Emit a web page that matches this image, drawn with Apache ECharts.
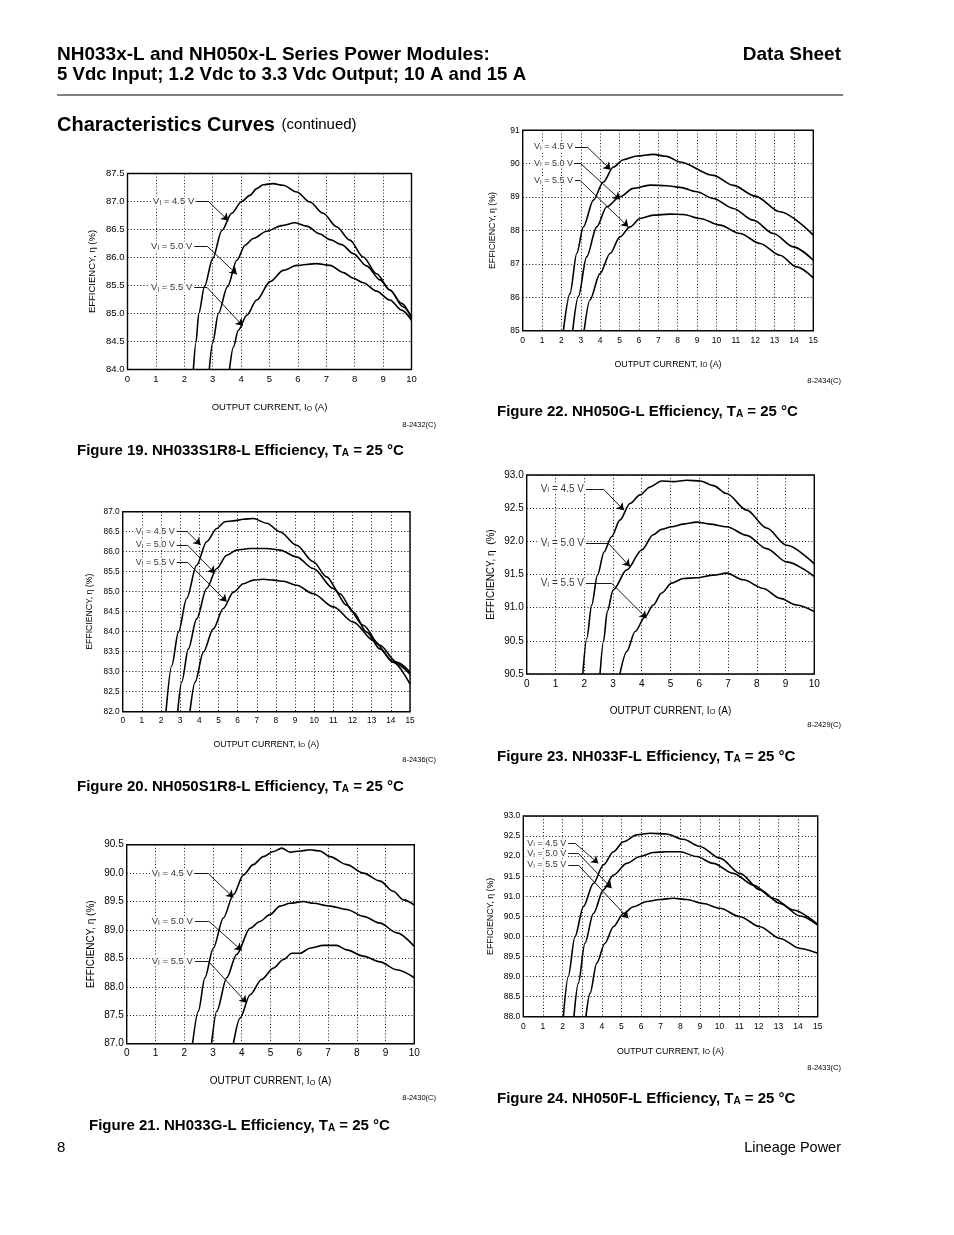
<!DOCTYPE html>
<html><head><meta charset="utf-8">
<script src="https://cdn.jsdelivr.net/npm/echarts@6/dist/echarts.min.js"></script>
<style>html,body{margin:0;padding:0;background:#fff}#c{width:954px;height:1235px}</style>
</head><body><div id="c"></div>
<script>
const FONT = "'Liberation Sans', Arial, Helvetica, sans-serif";

// ---------- Figure 19: NH033S1R8-L ----------
const fig19_v45 = [[2.32,84.0],[2.41,84.48],[2.51,85.0],[2.71,85.48],[3.0,85.98],[3.32,86.48],[3.67,86.79],[4.02,87.0],[4.31,87.11],[4.55,87.23],[4.78,87.30],[5.13,87.32],[5.48,87.29],[5.96,87.17],[6.42,86.99],[6.89,86.79],[7.36,86.55],[7.83,86.31],[8.30,86.01],[8.77,85.71],[9.24,85.42],[9.70,85.12],[10.0,84.94]];
const fig19_v50 = [[2.88,84.0],[3.0,84.48],[3.20,85.0],[3.52,85.48],[3.85,85.95],[4.14,86.22],[4.43,86.34],[4.90,86.47],[5.43,86.57],[5.90,86.62],[6.31,86.56],[6.78,86.42],[7.13,86.32],[7.54,86.23],[7.95,86.07],[8.42,85.85],[8.89,85.60],[9.24,85.42],[9.65,85.18],[10.0,84.92]];
const fig19_v55 = [[3.59,84.0],[3.73,84.4],[3.90,84.7],[4.20,84.97],[4.55,85.24],[5.02,85.57],[5.49,85.77],[5.96,85.86],[6.66,85.89],[7.13,85.86],[7.60,85.73],[7.95,85.63],[8.30,85.55],[8.77,85.40],[9.24,85.24],[9.65,85.06],[10.0,84.88]];
const fig19_yTicks = ['84.0','84.5','85.0','85.5','86.0','86.5','87.0','87.5'];
const fig19_notes = [
  {label:'4.5', start:[2.42,87.0], corner:[2.85,87.0], tip:[3.55,86.66]},
  {label:'5.0', start:[2.35,86.2], corner:[2.81,86.2], tip:[3.85,85.70]},
  {label:'5.5', start:[2.35,85.46], corner:[2.81,85.46], tip:[4.06,84.78]}
];

// ---------- Figure 22: NH050G-L ----------
const fig22_v45 = [[2.10,85.0],[2.44,86.11],[2.79,87.31],[3.13,88.11],[3.65,88.91],[4.16,89.45],[4.68,89.90],[5.20,90.12],[5.89,90.23],[6.74,90.28],[7.43,90.22],[8.12,90.05],[9.84,89.65],[10.87,89.35],[12.0,89.03],[13.28,88.56],[15.0,87.86]];
const fig22_v50 = [[2.58,85.0],[2.87,86.02],[3.30,87.21],[3.82,88.11],[4.34,88.71],[5.02,89.01],[5.71,89.26],[6.57,89.36],[7.43,89.34],[8.12,89.29],[8.98,89.16],[9.84,88.96],[10.87,88.66],[11.90,88.31],[12.94,87.91],[13.97,87.51],[15.0,87.11]];
const fig22_v55 = [[3.17,85.0],[3.47,85.92],[3.99,86.71],[4.51,87.31],[5.02,87.81],[5.54,88.11],[6.06,88.36],[6.74,88.46],[7.60,88.49],[8.29,88.48],[9.15,88.36],[10.18,88.16],[11.22,87.91],[12.25,87.61],[13.28,87.26],[14.14,86.91],[15.0,86.58]];
const fig22_yTicks = ['85','86','87','88','89','90','91'];
const fig22_notes = [
  {label:'4.5', start:[2.70,90.5], corner:[3.33,90.5], tip:[4.54,89.82]},
  {label:'5.0', start:[2.70,90.02], corner:[2.96,90.02], tip:[5.03,88.93]},
  {label:'5.5', start:[2.70,89.5], corner:[2.96,89.5], tip:[5.45,88.11]}
];

// ---------- Figure 20: NH050S1R8-L ----------
const fig20_v45 = [[2.26,82.0],[2.56,83.15],[2.91,83.99],[3.34,84.83],[3.86,85.66],[4.38,86.25],[4.91,86.58],[5.34,86.75],[5.78,86.77],[6.30,86.81],[6.82,86.83],[7.52,86.71],[8.21,86.50],[9.08,86.16],[9.95,85.75],[10.65,85.37],[11.34,84.95],[12.04,84.49],[12.74,83.99],[13.43,83.57],[14.13,83.24],[15.0,82.94]];
const fig20_v50 = [[2.87,82.0],[3.08,82.74],[3.43,83.57],[3.86,84.32],[4.38,85.08],[4.91,85.58],[5.43,85.91],[5.95,86.04],[6.65,86.08],[7.52,86.08],[8.21,86.04],[9.08,85.87],[9.95,85.58],[11.0,85.08],[11.69,84.66],[12.56,84.16],[13.43,83.66],[14.30,83.24],[15.0,82.99]];
const fig20_v55 = [[3.51,82.0],[3.78,82.74],[4.21,83.49],[4.73,84.07],[5.25,84.58],[5.78,84.99],[6.30,85.20],[6.82,85.29],[7.34,85.31],[7.86,85.29],[8.39,85.26],[9.08,85.16],[9.95,84.95],[11.0,84.62],[12.04,84.24],[13.09,83.78],[14.13,83.24],[15.0,82.69]];
const fig20_yTicks = ['82.0','82.5','83.0','83.5','84.0','84.5','85.0','85.5','86.0','86.5','87.0'];
const fig20_notes = [
  {label:'4.5', start:[2.82,86.5], corner:[3.37,86.5], tip:[4.07,86.17]},
  {label:'5.0', start:[2.82,86.17], corner:[3.37,86.17], tip:[4.82,85.46]},
  {label:'5.5', start:[2.82,85.74], corner:[3.37,85.74], tip:[5.43,84.75]}
];

// ---------- Figure 23: NH033F-L ----------
const fig23_v45 = [[1.95,90.0],[2.09,90.54],[2.26,91.04],[2.46,91.49],[2.69,91.84],[2.95,92.07],[3.24,92.32],[3.59,92.57],[3.94,92.70],[4.29,92.82],[4.69,92.91],[5.10,92.90],[5.56,92.92],[6.03,92.91],[6.49,92.84],[6.95,92.72],[7.65,92.47],[8.34,92.20],[9.04,91.94],[10.0,91.66]];
const fig23_v50 = [[2.55,90.0],[2.67,90.49],[2.80,90.94],[3.01,91.27],[3.48,91.57],[4.0,91.87],[4.40,92.10],[4.69,92.18],[5.04,92.22],[5.45,92.26],[5.91,92.29],[6.37,92.26],[6.95,92.22],[7.65,92.09],[8.34,91.89],[9.04,91.69],[10.0,91.47]];
const fig23_v55 = [[3.24,90.0],[3.48,90.34],[3.77,90.64],[4.11,90.86],[4.40,91.04],[4.69,91.22],[5.04,91.37],[5.45,91.44],[5.91,91.45],[6.49,91.49],[6.95,91.52],[7.53,91.42],[8.23,91.29],[8.81,91.14],[9.39,91.04],[10.0,90.94]];
const fig23_yTicks = ['90.5','90.5','91.0','91.5','92.0','92.5','93.0'];
const fig23_notes = [
  {label:'4.5', start:[2.06,92.79], corner:[2.66,92.79], tip:[3.38,92.47]},
  {label:'5.0', start:[2.06,91.97], corner:[2.84,91.97], tip:[3.59,91.62]},
  {label:'5.5', start:[2.06,91.37], corner:[2.95,91.37], tip:[4.17,90.84]}
];

// ---------- Figure 21: NH033G-L ----------
const fig21_v45 = [[2.29,87.0],[2.49,87.57],[2.72,88.16],[3.01,88.68],[3.36,89.21],[3.71,89.62],[4.06,89.97],[4.40,90.15],[4.75,90.29],[5.10,90.38],[5.39,90.44],[5.68,90.37],[6.03,90.39],[6.37,90.41],[6.72,90.39],[7.07,90.29],[7.65,90.15],[8.23,90.0],[8.81,89.86],[9.27,89.68],[9.62,89.53],[10.0,89.44]];
const fig21_v50 = [[2.95,87.0],[3.13,87.57],[3.48,88.16],[3.82,88.57],[4.29,89.03],[4.63,89.15],[4.98,89.27],[5.33,89.42],[5.68,89.47],[6.14,89.50],[6.49,89.47],[7.07,89.42],[7.65,89.36],[8.23,89.24],[8.81,89.12],[9.39,88.95],[10.0,88.71]];
const fig21_v55 = [[3.71,87.0],[3.94,87.45],[4.29,87.86],[4.69,88.13],[5.10,88.33],[5.45,88.48],[5.74,88.59],[6.03,88.59],[6.37,88.68],[6.84,88.73],[7.30,88.73],[7.65,88.65],[8.23,88.54],[8.81,88.44],[9.39,88.30],[10.0,88.16]];
const fig21_yTicks = ['87.0','87.5','88.0','88.5','89.0','89.5','90.0','90.5'];
const fig21_notes = [
  {label:'4.5', start:[2.37,89.99], corner:[2.84,89.99], tip:[3.71,89.57]},
  {label:'5.0', start:[2.37,89.16], corner:[2.84,89.16], tip:[4.0,88.64]},
  {label:'5.5', start:[2.37,88.45], corner:[2.84,88.45], tip:[4.17,87.72]}
];

// ---------- Figure 24: NH050F-L ----------
const fig24_v45 = [[2.04,88.0],[2.29,89.0],[2.63,89.99],[3.06,90.74],[3.57,91.32],[4.08,91.78],[4.59,92.11],[5.10,92.36],[5.78,92.53],[6.46,92.57],[7.30,92.55],[8.15,92.42],[9.0,92.24],[10.02,91.95],[11.04,91.57],[12.06,91.16],[13.08,90.82],[14.10,90.51],[15.0,90.28]];
const fig24_v50 = [[2.58,88.0],[2.80,88.83],[3.14,89.83],[3.57,90.57],[4.08,91.16],[4.59,91.53],[5.27,91.82],[5.95,91.99],[6.62,92.09],[7.30,92.11],[7.98,92.11],[8.83,91.99],[9.68,91.82],[10.70,91.57],[11.72,91.28],[12.74,90.95],[13.76,90.66],[15.0,90.30]];
const fig24_v55 = [[3.19,88.0],[3.40,88.58],[3.74,89.33],[4.16,89.83],[4.59,90.24],[5.10,90.57],[5.61,90.74],[6.29,90.87],[6.96,90.92],[7.64,90.95],[8.32,90.92],[9.17,90.82],[10.02,90.70],[11.04,90.49],[12.06,90.24],[13.08,89.95],[14.10,89.70],[15.0,89.58]];
const fig24_yTicks = ['88.0','88.5','89.0','89.5','90.0','90.5','91.0','91.5','92.0','92.5','93.0'];
const fig24_notes = [
  {label:'4.5', start:[2.29,92.32], corner:[2.64,92.32], tip:[3.82,91.82]},
  {label:'5.0', start:[2.29,92.07], corner:[2.80,92.07], tip:[4.5,91.20]},
  {label:'5.5', start:[2.29,91.78], corner:[2.80,91.78], tip:[5.35,90.45]}
];

// ---------- page texts ----------
const headerLines = ['NH033x-L and NH050x-L Series Power Modules:', '5 Vdc Input; 1.2 Vdc to 3.3 Vdc Output; 10 A and 15 A'];
const headerRight = 'Data Sheet';
const sectionTitle = 'Characteristics Curves';
const sectionNote = '(continued)';
const footerLeft = '8';
const footerRight = 'Lineage Power';

const panels = [
  {grid:{left:127.5, top:173.5, width:284, height:196}, xMax:10, yMin:84, yMax:87.5, yInt:0.5, yTicks:fig19_yTicks,
   curves:[fig19_v45,fig19_v50,fig19_v55], notes:fig19_notes, tickFont:9.5, nameFont:9.5, noteFont:9.5, xGap:33, yGap:30,
   yName:'EFFICIENCY, η (%)', code:'8-2432(C)', codePos:[436,425], caption:'Figure 19. NH033S1R8-L Efficiency, T', capPos:[77,451]},
  {grid:{left:522.7, top:130.3, width:290.6, height:200.4}, xMax:15, yMin:85, yMax:91, yInt:1, yTicks:fig22_yTicks,
   curves:[fig22_v45,fig22_v50,fig22_v55], notes:fig22_notes, tickFont:8.5, nameFont:8.8, noteFont:9, xGap:29, yGap:26,
   yName:'EFFICIENCY, η (%)', code:'8-2434(C)', codePos:[841,381], caption:'Figure 22. NH050G-L Efficiency, T', capPos:[497,412]},
  {grid:{left:122.7, top:511.7, width:287.3, height:200}, xMax:15, yMin:82, yMax:87, yInt:0.5, yTicks:fig20_yTicks,
   curves:[fig20_v45,fig20_v50,fig20_v55], notes:fig20_notes, tickFont:8.3, nameFont:8.7, noteFont:9, xGap:28, yGap:29,
   yName:'EFFICIENCY, η (%)', code:'8-2436(C)', codePos:[436,760], caption:'Figure 20. NH050S1R8-L Efficiency, T', capPos:[77,787]},
  {grid:{left:526.7, top:475, width:287.6, height:199}, xMax:10, yMin:90, yMax:93, yInt:0.5, yTicks:fig23_yTicks,
   curves:[fig23_v45,fig23_v50,fig23_v55], notes:fig23_notes, tickFont:10, nameFont:10, noteFont:10, xGap:32, yGap:30,
   yName:'EFFICIENCY, η  (%)', code:'8-2429(C)', codePos:[841,725], caption:'Figure 23. NH033F-L Efficiency, T', capPos:[497,757]},
  {grid:{left:126.7, top:844.7, width:287.6, height:199}, xMax:10, yMin:87, yMax:90.5, yInt:0.5, yTicks:fig21_yTicks,
   curves:[fig21_v45,fig21_v50,fig21_v55], notes:fig21_notes, tickFont:10, nameFont:10, noteFont:9.5, xGap:33, yGap:30,
   yName:'EFFICIENCY, η (%)', code:'8-2430(C)', codePos:[436,1098], caption:'Figure 21. NH033G-L Efficiency, T', capPos:[89,1126]},
  {grid:{left:523.3, top:816, width:294.4, height:200.7}, xMax:15, yMin:88, yMax:93, yInt:0.5, yTicks:fig24_yTicks,
   curves:[fig24_v45,fig24_v50,fig24_v55], notes:fig24_notes, tickFont:8.5, nameFont:8.8, noteFont:9, xGap:30, yGap:28,
   yName:'EFFICIENCY, η (%)', code:'8-2433(C)', codePos:[841,1068], caption:'Figure 24. NH050F-L Efficiency, T', capPos:[497,1099]}
];

const grids = [], xAxes = [], yAxes = [], series = [], graphics = [];
const dotted = {color:'#111', width:1, type:[1,2.2]};

panels.forEach((p, i) => {
  grids.push(Object.assign({show:true, borderColor:'#000', borderWidth:1.4, backgroundColor:'transparent', containLabel:false}, p.grid));
  xAxes.push({
    gridIndex:i, type:'value', min:0, max:p.xMax, interval:1,
    axisLine:{show:false}, axisTick:{show:false},
    splitLine:{show:true, lineStyle:dotted},
    axisLabel:{fontSize:p.tickFont, fontFamily:FONT, color:'#000', margin:5, showMinLabel:true, showMaxLabel:true},
    name:'{n|OUTPUT CURRENT, I}{s|O}{n| (A)}', nameLocation:'middle', nameGap:p.xGap,
    nameTextStyle:{rich:{n:{fontSize:p.nameFont, fontFamily:FONT, color:'#000'}, s:{fontSize:p.nameFont*0.72, fontFamily:FONT, color:'#000', verticalAlign:'bottom'}}}
  });
  yAxes.push({
    gridIndex:i, type:'value', min:p.yMin, max:p.yMax, interval:p.yInt,
    axisLine:{show:false}, axisTick:{show:false},
    splitLine:{show:true, lineStyle:dotted},
    axisLabel:{fontSize:p.tickFont, fontFamily:FONT, color:'#000', margin:3, showMinLabel:true, showMaxLabel:true,
      formatter:(v)=>p.yTicks[Math.round((v-p.yMin)/p.yInt)]},
    name:p.yName, nameLocation:'middle', nameGap:p.yGap, nameRotate:90,
    nameTextStyle:{fontSize:p.nameFont, fontFamily:FONT, color:'#000'}
  });
  p.curves.forEach(d => series.push({
    type:'line', xAxisIndex:i, yAxisIndex:i, data:d, smooth:0.3, smoothMonotone:'x', z:3,
    showSymbol:false, symbol:'none', silent:true, animation:false, clip:true,
    lineStyle:{color:'#000', width:1.6}
  }));
  const fs = p.noteFont;
  series.push({
    type:'scatter', xAxisIndex:i, yAxisIndex:i, symbolSize:0, silent:true, animation:false, z:2,
    data:p.notes.map(n=>({value:n.start, name:n.label})),
    label:{show:true, position:'left', distance:1, backgroundColor:'#fff', padding:[0,1,0,2],
      formatter:(q)=>'{a|V}{s|I}{a| = '+q.name+' V}',
      rich:{a:{fontSize:fs, fontFamily:FONT, color:'#000'}, s:{fontSize:fs*0.68, fontFamily:FONT, color:'#000', verticalAlign:'bottom'}}},
    markLine:{silent:true, animation:false, symbolSize:7, label:{show:false},
      lineStyle:{color:'#000', width:0.9, type:'solid'},
      data:[].concat(...p.notes.map(n=>[
        [{coord:n.start, symbol:'none'},{coord:n.corner, symbol:'none'}],
        [{coord:n.corner, symbol:'none'},{coord:n.tip, symbol:'arrow'}]
      ]))}
  });
  graphics.push({type:'text', x:p.codePos[0], y:p.codePos[1], silent:true,
    style:{text:p.code, fontSize:7.5, fontFamily:FONT, fill:'#000', align:'right', verticalAlign:'middle', textAlign:'right', textVerticalAlign:'middle'}});
  graphics.push({type:'text', x:p.capPos[0], y:p.capPos[1], silent:true,
    style:{text:'{b|'+p.caption+'}{s|A}{b| = 25 °C}', fill:'#000', align:'left', verticalAlign:'middle', textAlign:'left', textVerticalAlign:'middle',
      rich:{b:{fontSize:15, fontWeight:'bold', fontFamily:FONT, fill:'#000'}, s:{fontSize:10, fontWeight:'bold', fontFamily:FONT, fill:'#000', verticalAlign:'bottom'}}}});
});

// page header / footer
graphics.push({type:'text', x:57, y:55, silent:true, style:{text:headerLines[0], fontSize:19, fontWeight:'bold', fontFamily:FONT, fill:'#000', verticalAlign:'middle', textVerticalAlign:'middle'}});
graphics.push({type:'text', x:57, y:75, silent:true, style:{text:headerLines[1], fontSize:18.6, fontWeight:'bold', fontFamily:FONT, fill:'#000', verticalAlign:'middle', textVerticalAlign:'middle'}});
graphics.push({type:'text', x:841, y:55, silent:true, style:{text:headerRight, fontSize:19, fontWeight:'bold', fontFamily:FONT, fill:'#000', align:'right', textAlign:'right', verticalAlign:'middle', textVerticalAlign:'middle'}});
graphics.push({type:'line', silent:true, shape:{x1:57, y1:95, x2:843, y2:95}, style:{stroke:'#000', lineWidth:1}});
graphics.push({type:'text', x:57, y:125, silent:true, style:{text:'{b|'+sectionTitle+'}  {r|'+sectionNote+'}', fill:'#000', verticalAlign:'middle', textVerticalAlign:'middle',
  rich:{b:{fontSize:20, fontWeight:'bold', fontFamily:FONT, fill:'#000'}, r:{fontSize:15, fontFamily:FONT, fill:'#000'}}}});
graphics.push({type:'text', x:57, y:1148, silent:true, style:{text:footerLeft, fontSize:15, fontFamily:FONT, fill:'#000', verticalAlign:'middle', textVerticalAlign:'middle'}});
graphics.push({type:'text', x:841, y:1148, silent:true, style:{text:footerRight, fontSize:14.5, fontFamily:FONT, fill:'#000', align:'right', textAlign:'right', verticalAlign:'middle', textVerticalAlign:'middle'}});

const chart = echarts.init(document.getElementById('c'), null, {renderer:'canvas', width:954, height:1235});
chart.setOption({
  backgroundColor:'#fff', animation:false,
  textStyle:{fontFamily:FONT},
  grid:grids, xAxis:xAxes, yAxis:yAxes, series:series, graphic:graphics
});
</script></body></html>
